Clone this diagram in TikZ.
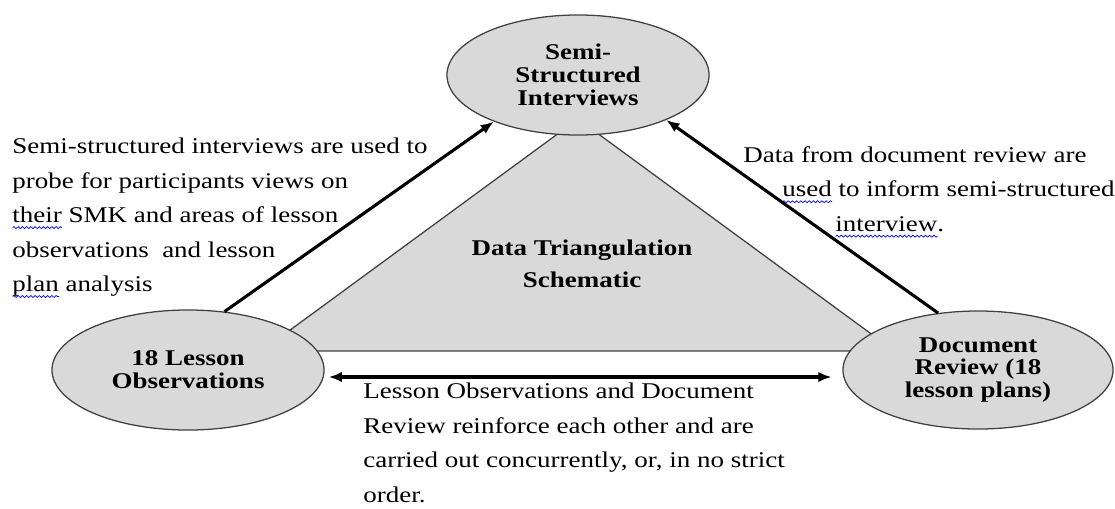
\documentclass[tikz,border=0pt]{standalone}
\usepackage{fontspec}
\setmainfont{Liberation Serif}[FakeStretch=1.2]
\usetikzlibrary{arrows.meta,shapes.geometric,decorations.pathmorphing}
\definecolor{boxgray}{RGB}{217,217,217}
\definecolor{edgegray}{RGB}{64,64,64}
\newcommand{\squig}[1]{\setbox0=\hbox{#1}\rlap{\tikz[x=1pt,y=1pt,baseline=0pt]\draw[blue,line width=0.5pt,decorate,decoration={snake,amplitude=0.7pt,segment length=3pt}] (0,-3.5)--(\the\wd0,-3.5);}\box0\relax}

\begin{document}
\begin{tikzpicture}[x=0.025cm,y=-0.025cm,
  oval/.style={ellipse, draw=edgegray, line width=0.9pt, fill=boxgray, inner sep=0pt, align=center, font=\fontsize{16}{16.3}\selectfont\bfseries},
  note/.style={align=left, anchor=west, inner sep=0pt, font=\fontsize{16}{24.5}\selectfont},
  arr/.style={line width=2.2pt, -{Latex[length=3.3mm,width=2.6mm]}}]
\useasboundingbox (0,0) rectangle (1115,508);
\filldraw[fill=boxgray, draw=edgegray, line width=0.9pt] (578,119) -- (261.5,351) -- (894.5,351) -- cycle;
\node[align=center, font=\fontsize{16}{22.7}\selectfont\bfseries] (schem) at (582,264) {Data Triangulation\\Schematic};
\node[oval, minimum width=6.55cm, minimum height=3cm] (ssi) at (578,75) {Semi-\\Structured\\Interviews};
\node[oval, minimum width=6.8cm, minimum height=3cm] (lo) at (188,370) {18 Lesson\\Observations};
\node[oval, minimum width=6.75cm, minimum height=2.95cm] (dr) at (978,370) {Document\\Review (18\\lesson plans)};
\draw[arr] (lo.58) -- (ssi.209);
\draw[arr] (dr.125) -- (ssi.333);
\draw[arr, {Latex[length=3.3mm,width=2.6mm]}-{Latex[length=3.3mm,width=2.6mm]}, shorten <=0.1cm, shorten >=0.27cm] ([yshift=-0.175cm]lo.east) -- ([yshift=-0.175cm]dr.west);
\node[note] (why) at (12,218) {Semi-structured interviews are used to\\probe for participants views on\\\squig{their} SMK and areas of lesson\\observations~ and lesson\\\squig{plan} analysis};
\node[note] (inform) at (743,192) {Data from document review are\\\hspace{0.975cm}\squig{used} to inform semi-structured\\\hspace{2.3cm}\squig{interview}.};
\node[note] (order) at (363,443) {Lesson Observations and Document\\Review reinforce each other and are\\carried out concurrently, or, in no strict\\order.};
\end{tikzpicture}
\end{document}
